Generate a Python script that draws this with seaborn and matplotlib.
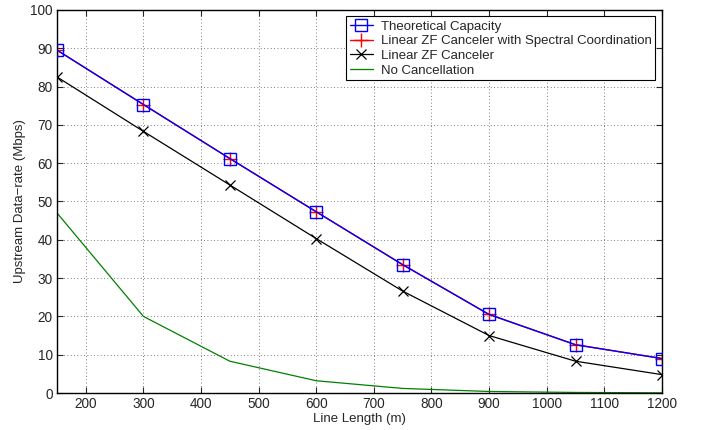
import matplotlib
matplotlib.use("Agg")
import matplotlib.pyplot as plt
import seaborn as sns
import pandas as pd

# Data
line_length = [150, 300, 450, 600, 750, 900, 1050, 1200]
theoretical = [89.5, 75.3, 61.2, 47.3, 33.5, 20.5, 12.6, 9.0]
zf_spectral = [89.5, 75.3, 61.2, 47.3, 33.5, 20.5, 12.6, 9.0]
zf_linear = [82.5, 68.3, 54.3, 40.3, 26.6, 15.0, 8.3, 4.8]
no_cancel = [47.0, 20.0, 8.3, 3.2, 1.2, 0.4, 0.15, 0.05]

labels = ["Theoretical Capacity",
          "Linear ZF Canceler with Spectral Coordination",
          "Linear ZF Canceler",
          "No Cancellation"]

sns.set_style("ticks")
plt.rcParams['font.family'] = ['Liberation Sans', 'DejaVu Sans']
plt.rcParams['font.size'] = 9.5

fig = plt.figure(figsize=(7.01, 4.30), dpi=100)
ax = fig.add_axes([0.0813, 0.086, 0.8630, 0.891])

df = pd.DataFrame({"x": line_length, "theo": theoretical, "spec": zf_spectral,
                   "zf": zf_linear, "none": no_cancel})

sns.lineplot(data=df, x="x", y="theo", ax=ax, color="blue", lw=1.0,
             marker="s", markersize=8, markerfacecolor="none",
             markeredgecolor="blue", markeredgewidth=1.0, label=labels[0], zorder=3)
sns.lineplot(data=df, x="x", y="spec", ax=ax, color="red", lw=1.0,
             marker="+", markersize=10, markeredgecolor="red",
             markeredgewidth=1.0, label=labels[1], zorder=2)
sns.lineplot(data=df, x="x", y="zf", ax=ax, color="black", lw=0.9,
             marker="x", markersize=7, markeredgecolor="black",
             markeredgewidth=0.9, label=labels[2], zorder=2)
sns.lineplot(data=df, x="x", y="none", ax=ax, color="green", lw=0.9,
             label=labels[3], zorder=2)

ax.set_xlim(150, 1200)
ax.set_ylim(0, 100)
ax.set_xticks(range(200, 1201, 100))
ax.set_yticks(range(0, 101, 10))
ax.grid(True, linestyle=(0, (1, 3)), color="#555555", linewidth=0.6)
ax.tick_params(direction="in", length=4, width=0.8, labelsize=9.8,
               top=True, right=True, pad=3)
for s in ax.spines.values():
    s.set_visible(True)
    s.set_linewidth(1.0)
    s.set_color("black")

ax.set_xlabel("Line Length (m)", fontsize=9.5, labelpad=1)
ax.set_ylabel("Upstream Data\u2212rate (Mbps)", fontsize=9.5, labelpad=3)

leg = ax.legend(loc="upper right", fontsize=9.5, frameon=True, fancybox=False,
                borderaxespad=0.5, handlelength=1.75, handletextpad=0.6,
                borderpad=0.3, labelspacing=0.18)
leg.get_frame().set_edgecolor("black")
leg.get_frame().set_linewidth(0.8)
leg.get_frame().set_alpha(1)

fig.savefig("out.png", dpi=100)
